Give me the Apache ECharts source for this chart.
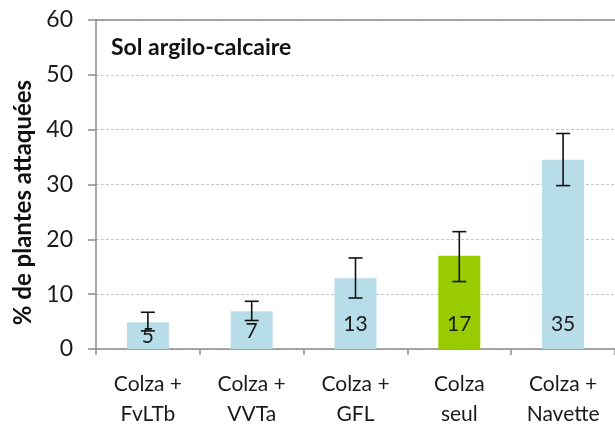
<!DOCTYPE html>
<html>
<head>
<meta charset="utf-8">
<script src="https://cdn.jsdelivr.net/npm/echarts@6/dist/echarts.min.js"></script>
<style>
  html, body { margin: 0; padding: 0; background: #fff; }
  #chart { width: 615px; height: 429px; }
</style>
</head>
<body>
<div id="chart"></div>
<script>
// --- données ---
const categories = ['Colza +\nFvLTb', 'Colza +\nVVTa', 'Colza +\nGFL', 'Colza\nseul', 'Colza +\nNavette']
const values = [5, 7, 13, 17, 35]
const shownValues = [4.9, 6.9, 12.9, 17, 34.5]
const errLow = [3.3, 5.2, 9.3, 12.3, 29.8]
const errHigh = [6.7, 8.7, 16.6, 21.4, 39.3]
const yTicks = [0, 10, 20, 30, 40, 50, 60]

const blue = '#b7dde8'
const green = '#99cc00'
const axisGray = '#8c8c8c'
const font = 'Lato, "Open Sans", sans-serif'

const chart = echarts.init(document.getElementById('chart'))

// les deux petites barres ont l'étiquette centrée, les autres en bas
const barData = shownValues.map((v, i) => ({
  value: v,
  itemStyle: { color: i === 3 ? green : blue },
  label: i < 2
    ? { position: 'inside', offset: [0, 1] }
    : { position: 'insideBottom', distance: 14 }
}))

const errData = errLow.map((lo, i) => [i, lo, errHigh[i]])

chart.setOption({
  animation: false,
  title: {
    text: 'Sol argilo-calcaire',
    left: 106,
    top: 31,
    textStyle: { fontFamily: font, fontSize: 23, fontWeight: 'bold', color: '#111' }
  },
  grid: { left: 96, top: 20, width: 524, height: 330 },
  xAxis: [
    {
      type: 'category',
      data: categories,
      axisLine: { lineStyle: { color: axisGray, width: 1.5 } },
      axisTick: { show: true, interval: 0, length: 6, lineStyle: { color: axisGray, width: 1.5 } },
      axisLabel: {
        interval: 0,
        margin: 20,
        fontFamily: font,
        fontSize: 21,
        lineHeight: 30,
        color: '#1a1a1a'
      }
    },
    {
      type: 'category',
      data: categories,
      position: 'top',
      axisLine: { lineStyle: { color: axisGray, width: 1.5 } },
      axisTick: { show: false },
      axisLabel: { show: false }
    }
  ],
  yAxis: {
    type: 'value',
    min: yTicks[0],
    max: yTicks[yTicks.length - 1],
    interval: 10,
    name: '% de plantes attaquées',
    nameLocation: 'middle',
    nameGap: 56,
    nameTextStyle: {
      fontFamily: font,
      fontSize: 24,
      fontWeight: 'bold',
      color: '#111',
      padding: [0, 36, 0, 0]
    },
    axisLine: { show: true, lineStyle: { color: axisGray, width: 1.5 } },
    axisTick: { show: true, length: 8, lineStyle: { color: axisGray, width: 1.5 } },
    axisLabel: { margin: 23, fontFamily: font, fontSize: 23, color: '#1a1a1a' },
    splitLine: { lineStyle: { color: '#c8c8c8', type: [3, 2], width: 1 } }
  },
  series: [
    {
      type: 'bar',
      data: barData,
      barWidth: 42,
      label: {
        show: true,
        fontFamily: font,
        fontSize: 21,
        color: '#1a1a1a',
        formatter: (p) => values[p.dataIndex]
      }
    },
    {
      type: 'custom',
      data: errData,
      z: 10,
      renderItem: (params, api) => {
        const x = api.value(0)
        const lo = api.coord([x, api.value(1)])
        const hi = api.coord([x, api.value(2)])
        const half = 7
        const style = { stroke: '#111', lineWidth: 1.6 }
        return {
          type: 'group',
          children: [
            { type: 'line', shape: { x1: hi[0], y1: hi[1], x2: lo[0], y2: lo[1] }, style },
            { type: 'line', shape: { x1: hi[0] - half, y1: hi[1], x2: hi[0] + half, y2: hi[1] }, style },
            { type: 'line', shape: { x1: lo[0] - half, y1: lo[1], x2: lo[0] + half, y2: lo[1] }, style }
          ]
        }
      }
    }
  ]
})
</script>
</body>
</html>
